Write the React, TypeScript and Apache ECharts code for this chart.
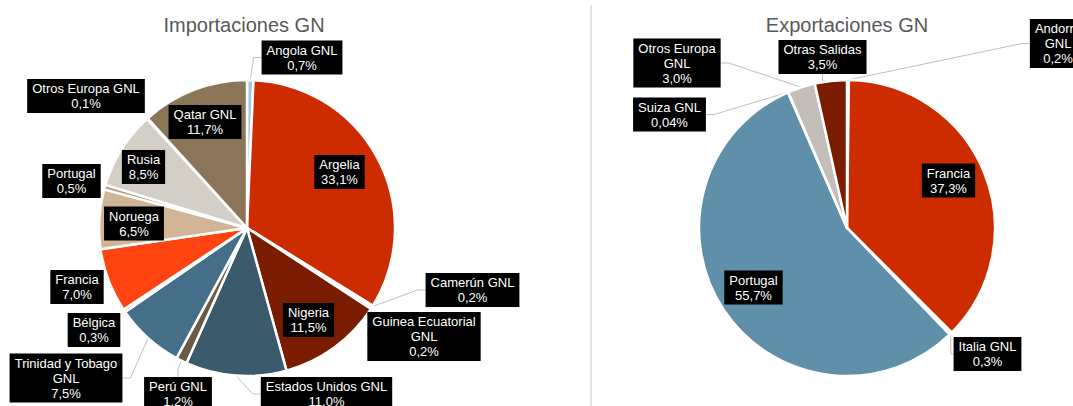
import React, { useEffect, useRef } from "react";
import * as echarts from "echarts";

// ---- Data ----
const importNames = [
  "Angola GNL", "Argelia", "Camerún GNL", "Guinea Ecuatorial\nGNL", "Nigeria",
  "Estados Unidos GNL", "Perú GNL", "Trinidad y Tobago\nGNL", "Bélgica", "Francia",
  "Noruega", "Portugal", "Rusia", "Otros Europa GNL", "Qatar GNL",
];
const importValues = [0.7, 33.1, 0.2, 0.2, 11.5, 11.0, 1.2, 7.5, 0.3, 7.0, 6.5, 0.5, 8.5, 0.1, 11.7];
const importColors = [
  "#A8C5DC", "#CD2C00", "#9C3A1A", "#B5552F", "#7A1C00",
  "#3B5A6C", "#6B5B45", "#456F89", "#5A7F96", "#FF4412",
  "#D2B496", "#B89A80", "#D3CFC7", "#A89A88", "#8B7559",
];
// label box centres [x, y]
const importLabelPos: [number, number][] = [
  [302, 57.5], [339.5, 172], [472.5, 290], [424, 336.5], [308.5, 320],
  [326.5, 394], [178, 394], [66, 378], [94, 330], [77, 287],
  [134, 223.5], [71.5, 181], [143.5, 167], [86, 96], [205, 122],
];
const importInside = [false, true, false, false, true, false, false, false, false, false, true, false, true, false, true];
const importNoLine = [false, false, false, false, false, false, false, false, true, true, false, true, false, true, false];

const exportNames = [
  "Andorra\nGNL", "Francia", "Italia GNL", "Portugal", "Suiza GNL", "Otros Europa\nGNL", "Otras Salidas",
];
const exportValues = [0.2, 37.3, 0.3, 55.7, 0.04, 3.0, 3.5];
const exportColors = ["#9C3A1A", "#CD2C00", "#B5552F", "#5F8FA9", "#8AA9BD", "#C3BFB8", "#7A1C00"];
const exportLabelPos: [number, number][] = [
  [1058, 43.5], [948.5, 180.5], [987.5, 354], [753.5, 287.5], [669.5, 114.5], [677, 63], [822.5, 57],
];
const exportInside = [false, true, false, true, false, false, false];

const fmt = (v: number) => (v < 0.1 ? v.toFixed(2) : v.toFixed(1)).replace(".", ",");

const FONT = "'Liberation Sans', Arial, sans-serif";

function buildSeries(
  names: string[], values: number[], colors: string[], pos: [number, number][],
  inside: boolean[], noLine: boolean[], center: [number, number]
) {
  return {
    type: "pie",
    center,
    radius: 148,
    startAngle: 90,
    clockwise: true,
    avoidLabelOverlap: false,
    itemStyle: { borderColor: "#ffffff", borderWidth: 2.5 },
    label: {
      show: true,
      position: "outside",
      formatter: (p: any) => `${p.name}\n${fmt(p.value)}%`,
      color: "#ffffff",
      backgroundColor: "#000000",
      fontFamily: FONT,
      fontSize: 13,
      lineHeight: 15,
      padding: [2, 5, 2, 5],
      align: "center",
    },
    labelLine: { show: true, length: 8, length2: 8, lineStyle: { color: "#BFBFBF", width: 1 } },
    labelLayout: (p: any) => {
      const xy = pos[p.dataIndex];
      return { x: xy[0], y: xy[1], align: "center", verticalAlign: "middle" };
    },
    emphasis: { disabled: true },
    data: names.map((n, i) => ({
      name: n,
      value: values[i],
      itemStyle: { color: colors[i] },
      labelLine: { show: !(inside[i] || noLine[i]) },
    })),
  };
}

export default function App() {
  const ref = useRef<HTMLDivElement>(null);
  useEffect(() => {
    if (!ref.current) return;
    const chart = echarts.init(ref.current, undefined, { renderer: "svg" });
    chart.setOption({
      animation: false,
      backgroundColor: "#ffffff",
      graphic: [
        {
          type: "text", x: 244, y: 25,
          style: { text: "Importaciones GN", fontSize: 20, fill: "#595959", fontFamily: FONT, align: "center", verticalAlign: "middle" },
        },
        {
          type: "text", x: 847, y: 25,
          style: { text: "Exportaciones GN", fontSize: 20, fill: "#595959", fontFamily: FONT, align: "center", verticalAlign: "middle" },
        },
        {
          type: "line", shape: { x1: 591, y1: 5, x2: 591, y2: 406 },
          style: { stroke: "#E3E3E3", lineWidth: 2 },
        },
      ],
      series: [
        buildSeries(importNames, importValues, importColors, importLabelPos, importInside, importNoLine, [247, 228]),
        buildSeries(exportNames, exportValues, exportColors, exportLabelPos, exportInside, exportValues.map(() => false), [847, 228]),
      ],
    });
    return () => chart.dispose();
  }, []);
  return (
    <div
      ref={ref}
      style={{ position: "fixed", left: 0, top: 0, width: 1073, height: 406, background: "#fff" }}
    />
  );
}
